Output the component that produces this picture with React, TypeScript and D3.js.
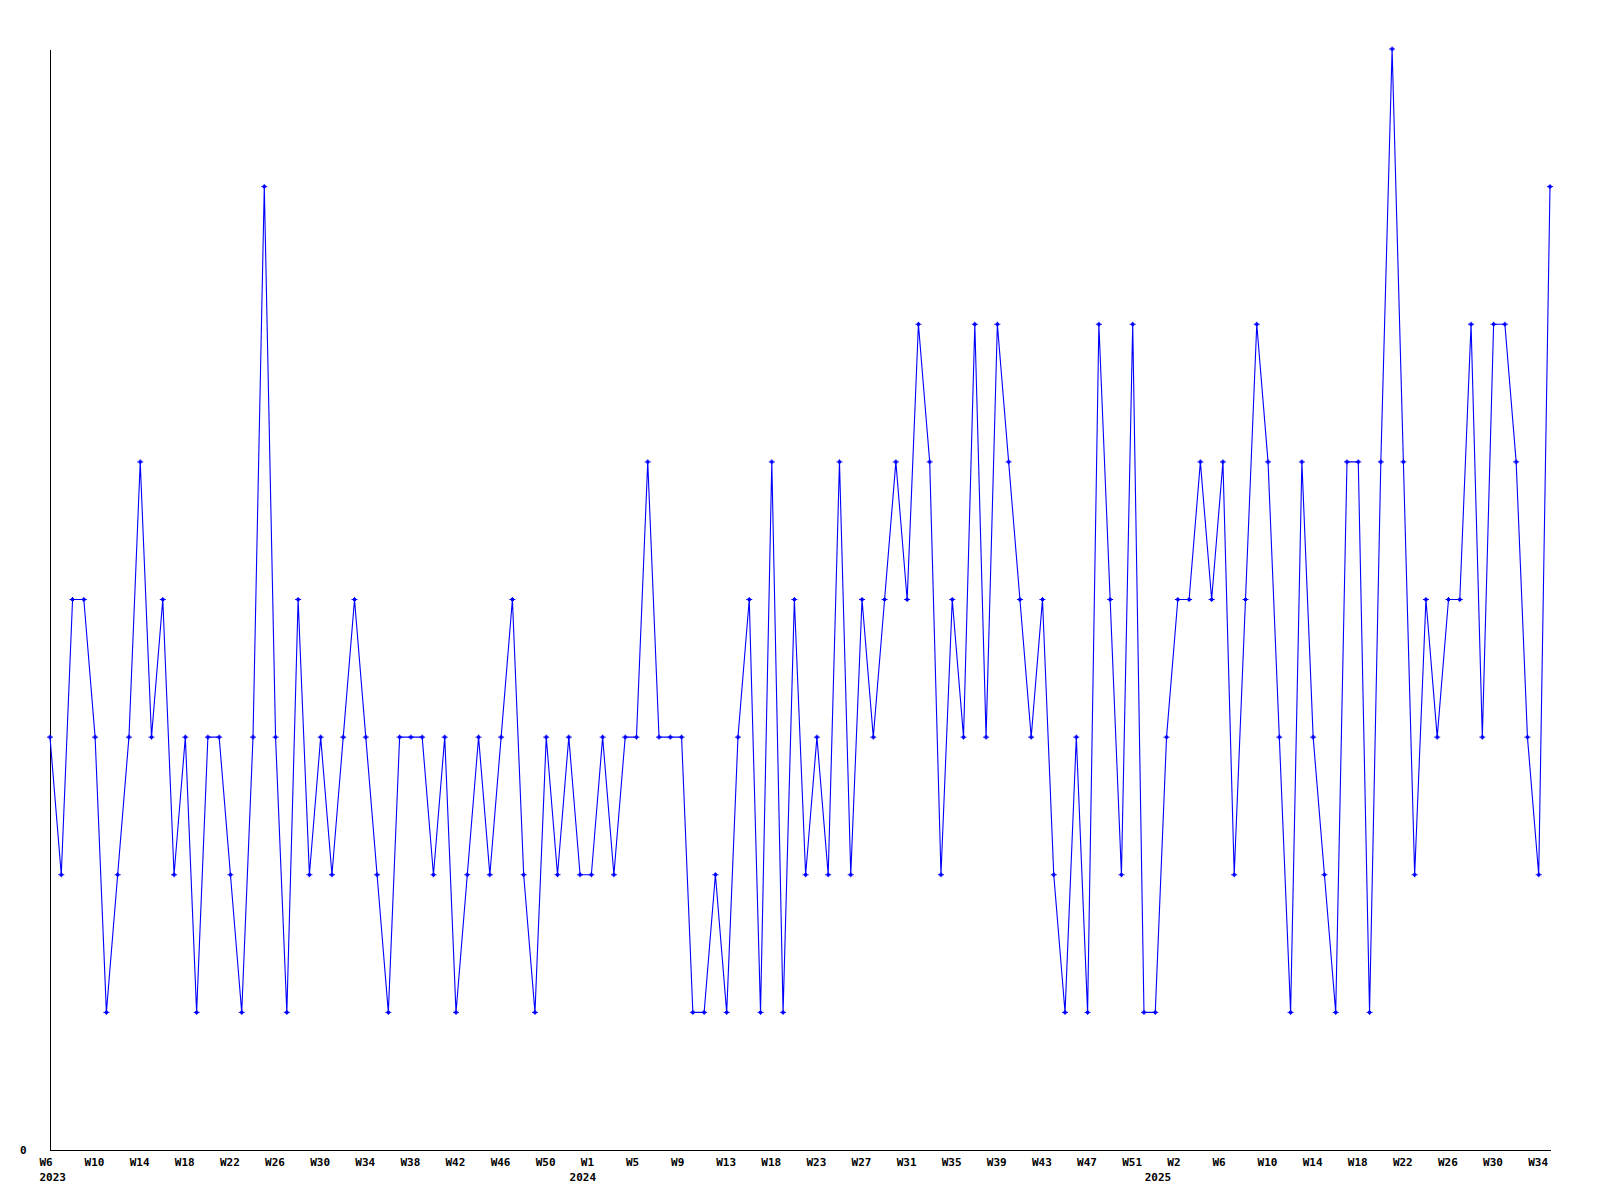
import React from "react";
import * as d3 from "d3";

// Weekly values, 2023 W6 .. 2025 W35 (134 weeks)
const values: number[] = [
  3, 2, 4, 4, 3, 1, 2, 3, 5, 3, 4, 2, 3, 1, 3, 3, 2, 1, 3, 7, 3, 1,
  4, 2, 3, 2, 3, 4, 3, 2, 1, 3, 3, 3, 2, 3, 1, 2, 3, 2, 3, 4, 2, 1,
  3, 2, 3, 2, 2, 3, 2, 3, 3, 5, 3, 3, 3, 1, 1, 2, 1, 3, 4, 1, 5, 1,
  4, 2, 3, 2, 5, 2, 4, 3, 4, 5, 4, 6, 5, 2, 4, 3, 6, 3, 6, 5, 4, 3,
  4, 2, 1, 3, 1, 6, 4, 2, 6, 1, 1, 3, 4, 4, 5, 4, 5, 2, 4, 6, 5, 3,
  1, 5, 3, 2, 1, 5, 5, 1, 5, 8, 5, 2, 4, 3, 4, 4, 6, 3, 6, 6, 5, 3,
  2, 7,
];

// Week tick labels and the data index they sit on
const weekTickIndex: number[] = [
  0, 4, 8, 12, 16, 20, 24, 28, 32, 36, 40, 44,
  48, 52, 56, 60, 64, 68, 72, 76, 80, 84, 88, 92, 96,
  100, 104, 108, 112, 116, 120, 124, 128, 132,
];
const weekTickLabel: string[] = [
  "W6", "W10", "W14", "W18", "W22", "W26", "W30", "W34", "W38", "W42", "W46", "W50",
  "W1", "W5", "W9", "W13", "W18", "W23", "W27", "W31", "W35", "W39", "W43", "W47", "W51",
  "W2", "W6", "W10", "W14", "W18", "W22", "W26", "W30", "W34",
];
const yearTickIndex: number[] = [0, 47, 98];
const yearTickLabel: string[] = ["2023", "2024", "2025"];

const yTicks: number[] = [0];

export default function App() {
  const W = 1600;
  const H = 1200;
  const x0 = 50;
  const x1 = 1550;
  const yBottom = 1150;
  const yTop = 49;

  const x = d3.scaleLinear().domain([0, values.length - 1]).range([x0, x1]);
  const y = d3.scaleLinear().domain([0, 8]).range([yBottom, yTop]);

  const line = d3
    .line<number>()
    .x((_, i) => x(i))
    .y((d) => y(d));

  const font = "'DejaVu Sans Mono', monospace";
  const blue = "#0000ff";

  return (
    <svg
      width={W}
      height={H}
      viewBox={`0 0 ${W} ${H}`}
      style={{ position: "absolute", left: 0, top: 0, background: "#fff" }}
    >
      <rect x={0} y={0} width={W} height={H} fill="#fff" />
      {/* axes */}
      <line x1={x0 + 0.5} y1={50} x2={x0 + 0.5} y2={yBottom + 0.5} stroke="#000" strokeWidth={1} shapeRendering="crispEdges" />
      <line x1={x0} y1={yBottom + 0.5} x2={x1 + 1} y2={yBottom + 0.5} stroke="#000" strokeWidth={1} shapeRendering="crispEdges" />

      {/* y tick label */}
      {yTicks.map((t) => (
        <text
          key={"y" + t}
          x={26.5}
          y={y(t) + 3.5}
          textAnchor="end"
          fontFamily={font}
          fontWeight="bold"
          fontSize={11}
          fill="#000"
        >
          {t}
        </text>
      ))}

      {/* week labels */}
      {weekTickIndex.map((idx, k) => (
        <text
          key={"w" + k}
          x={x(idx) - 10.5}
          y={1166}
          textAnchor="start"
          fontFamily={font}
          fontWeight="bold"
          fontSize={11}
          fill="#000"
        >
          {weekTickLabel[k]}
        </text>
      ))}

      {/* year labels */}
      {yearTickIndex.map((idx, k) => (
        <text
          key={"yr" + k}
          x={x(idx) - 10.5}
          y={1181}
          textAnchor="start"
          fontFamily={font}
          fontWeight="bold"
          fontSize={11}
          fill="#000"
        >
          {yearTickLabel[k]}
        </text>
      ))}

      {/* series */}
      <path d={line(values) || ""} fill="none" stroke={blue} strokeWidth={1.1} />
      {values.map((v, i) => {
        const cx = x(i);
        const cy = y(v);
        return (
          <g key={"m" + i}>
            <path
              d={`M${cx - 3},${cy}H${cx + 3}M${cx},${cy - 2.5}V${cy + 2.5}`}
              stroke={blue}
              strokeWidth={1}
              fill="none"
            />
            <rect x={cx - 1.5} y={cy - 1.5} width={3} height={3} fill={blue} />
          </g>
        );
      })}
    </svg>
  );
}
